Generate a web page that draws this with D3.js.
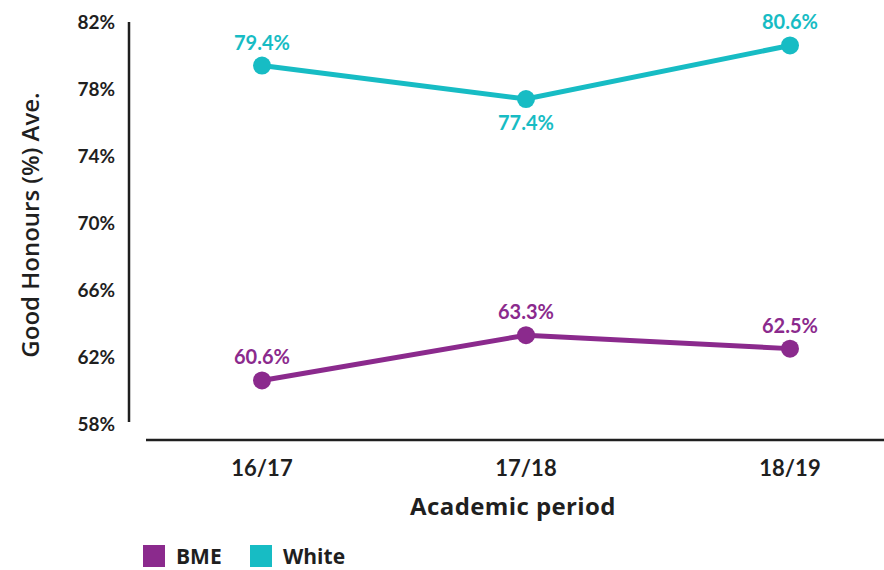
<!DOCTYPE html>
<html>
<head>
<meta charset="utf-8">
<script src="https://cdn.jsdelivr.net/npm/d3@7"></script>
<style>
  html, body { margin: 0; padding: 0; background: #fff; }
  svg { display: block; font-family: "Lato", "Noto Sans", sans-serif; }
  .title { font-family: "Open Sans", "Noto Sans", sans-serif; }
</style>
</head>
<body>
<svg id="chart" width="884" height="570"></svg>
<script>
// Good honours averages by academic period
const periods = ["16/17", "17/18", "18/19"];
const bmeValues = [60.6, 63.3, 62.5];
const whiteValues = [79.4, 77.4, 80.6];
const yTicks = [58, 62, 66, 70, 74, 78, 82];
const seriesNames = ["BME", "White"];
const seriesColors = ["#8b2a8d", "#17bcc4"];
// label placement: -1 above the point, +1 below
const bmeLabelSide = [-1, -1, -1];
const whiteLabelSide = [-1, 1, -1];

const svg = d3.select("#chart");
const ink = "#1f1f1f";

const x = d3.scalePoint().domain(periods).range([262, 790]);
const y = d3.scaleLinear().domain([58, 82]).range([424, 22]);

// y axis line
svg.append("line")
  .attr("x1", 129).attr("x2", 129)
  .attr("y1", y(82)).attr("y2", 422)
  .attr("stroke", ink).attr("stroke-width", 2.5);

// x axis line
svg.append("line")
  .attr("x1", 146).attr("x2", 884)
  .attr("y1", 440).attr("y2", 440)
  .attr("stroke", ink).attr("stroke-width", 2.5);

// y tick labels
svg.append("g").selectAll("text")
  .data(yTicks).join("text")
  .attr("x", 115)
  .attr("y", d => y(d) + 2)
  .attr("text-anchor", "end")
  .attr("dominant-baseline", "middle")
  .attr("font-size", 19)
  .attr("font-weight", 700)
  .attr("fill", ink)
  .text(d => d + "%");

// x tick labels
svg.append("g").selectAll("text")
  .data(periods).join("text")
  .attr("x", d => x(d))
  .attr("y", 476)
  .attr("text-anchor", "middle")
  .attr("font-size", 22)
  .attr("font-weight", 700)
  .attr("fill", ink)
  .text(d => d);

// axis titles
svg.append("text")
  .attr("class", "title")
  .attr("x", 513).attr("y", 515)
  .attr("text-anchor", "middle")
  .attr("font-size", 24)
  .attr("font-weight", 700)
  .attr("letter-spacing", 0.4)
  .attr("fill", ink)
  .text("Academic period");

svg.append("text")
  .attr("class", "title")
  .attr("transform", "translate(39,225) rotate(-90)")
  .attr("text-anchor", "middle")
  .attr("font-size", 24)
  .attr("font-weight", 600)
  .attr("fill", ink)
  .text("Good Honours (%) Ave.");

const series = [
  { name: seriesNames[0], values: bmeValues, color: seriesColors[0], side: bmeLabelSide },
  { name: seriesNames[1], values: whiteValues, color: seriesColors[1], side: whiteLabelSide }
];

const line = d3.line()
  .x((d, i) => x(periods[i]))
  .y(d => y(d));

series.forEach(s => {
  const g = svg.append("g");
  g.append("path")
    .attr("d", line(s.values))
    .attr("fill", "none")
    .attr("stroke", s.color)
    .attr("stroke-width", 5);
  g.selectAll("circle")
    .data(s.values).join("circle")
    .attr("cx", (d, i) => x(periods[i]))
    .attr("cy", d => y(d))
    .attr("r", 9)
    .attr("fill", s.color);
  g.selectAll("text")
    .data(s.values).join("text")
    .attr("x", (d, i) => x(periods[i]))
    .attr("y", (d, i) => y(d) + (s.side[i] < 0 ? -16 : 31))
    .attr("text-anchor", "middle")
    .attr("font-size", 20)
    .attr("font-weight", 700)
    .attr("fill", s.color)
    .text(d => d.toFixed(1) + "%");
});

// legend
const legend = svg.append("g");
const legendX = [143, 250];
series.forEach((s, i) => {
  legend.append("rect")
    .attr("x", legendX[i]).attr("y", 545)
    .attr("width", 22).attr("height", 22)
    .attr("fill", s.color);
  legend.append("text")
    .attr("class", "title")
    .attr("x", legendX[i] + 33).attr("y", 564)
    .attr("font-size", 21)
    .attr("font-weight", 700)
    .attr("fill", ink)
    .text(s.name);
});
</script>
</body>
</html>
